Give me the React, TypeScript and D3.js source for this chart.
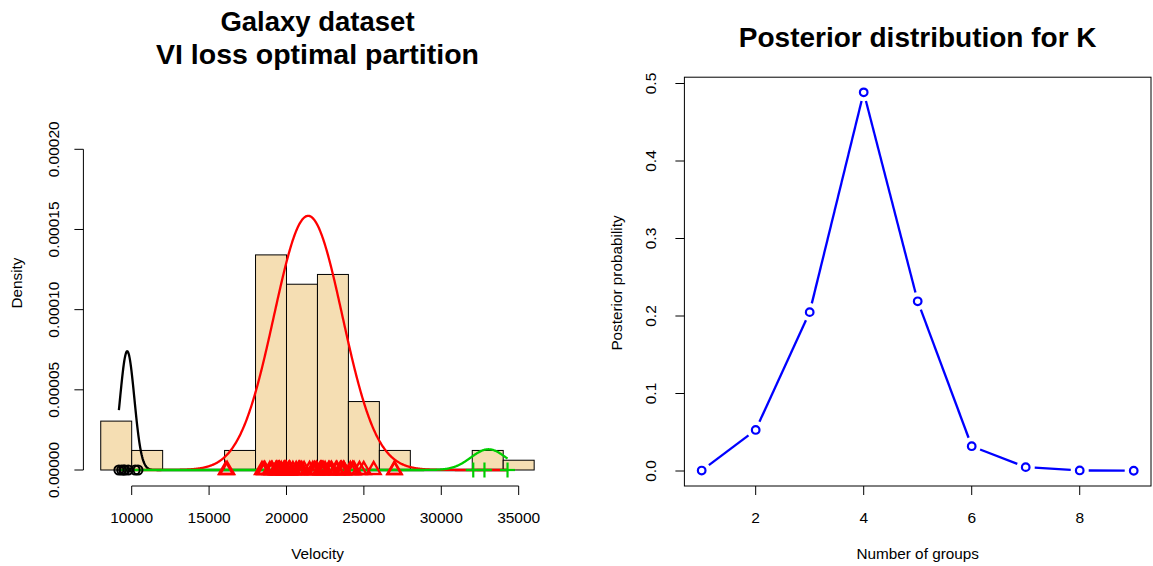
import React from "react";
import * as d3 from "d3";

// ---- Data ----
const cluster1 = [9172, 9350, 9483, 9558, 9775, 10227, 10406];
const cluster2 = [
  16084, 16170, 18419, 18552, 18600, 18927, 19052, 19070, 19330, 19343, 19349, 19440,
  19473, 19529, 19541, 19547, 19663, 19846, 19856, 19863, 19914, 19918, 19973, 19989,
  20166, 20175, 20179, 20196, 20215, 20221, 20415, 20629, 20795, 20821, 20846, 20875,
  20986, 21137, 21492, 21701, 21814, 21921, 21960, 22185, 22209, 22242, 22249, 22314,
  22374, 22495, 22746, 22747, 22888, 22914, 23206, 23241, 23263, 23484, 23538, 23542,
  23666, 23706, 23711, 24129, 24285, 24289, 24366, 24717, 24990, 25633, 26960, 26995,
];
const cluster3 = [32065, 32789, 34279];
const histBreaks = [8000, 10000, 12000, 14000, 16000, 18000, 20000, 22000, 24000, 26000, 28000, 30000, 32000, 34000, 36000];
const velocityTicks = [10000, 15000, 20000, 25000, 30000, 35000];
const densityTicks = [0, 0.00005, 0.0001, 0.00015, 0.0002];
const densityTickLabels = ["0.00000", "0.00005", "0.00010", "0.00015", "0.00020"];

// mixture components
const compMean = [9710, 21400, 33044];
const compSd = [460, 2210, 1129];
const compWeight = [7 / 82, 72 / 82, 3 / 82];
const curveFrom = 9172;
const curveTo = 34279;

const kValues = [1, 2, 3, 4, 5, 6, 7, 8, 9];
const kProb = [0.0006, 0.053, 0.205, 0.4886, 0.219, 0.032, 0.005, 0.0007, 0.0003];
const kXTicks = [2, 4, 6, 8];
const kYTicks = [0, 0.1, 0.2, 0.3, 0.4, 0.5];

const FONT = "'Liberation Sans', Arial, Helvetica, sans-serif";
const GREEN = "#00CD00";

function normPdf(x: number, m: number, s: number) {
  return Math.exp(-0.5 * ((x - m) / s) ** 2) / (s * Math.sqrt(2 * Math.PI));
}

export default function App() {
  const allData = [...cluster1, ...cluster2, ...cluster3];
  const n = allData.length;

  // Left panel scales
  const xL = d3.scaleLinear().domain([6880, 37120]).range([83.4, 551.5]);
  const yL = d3.scaleLinear().domain([0, 0.0002]).range([470, 149.3]);
  const axisYL = 486;

  const bins = d3
    .bin<number, number>()
    .domain([histBreaks[0], histBreaks[histBreaks.length - 1]])
    .thresholds(histBreaks.slice(1, -1))(allData);

  const curveColors = ["black", "red", GREEN];
  const curveOrder = [0, 1, 2];
  const line = d3
    .line<[number, number]>()
    .x((d) => xL(d[0]))
    .y((d) => yL(d[1]));
  const curves = curveOrder.map((k) => {
    const steps = 800;
    const pts: [number, number][] = [];
    for (let i = 0; i <= steps; i++) {
      const v = curveFrom + ((curveTo - curveFrom) * i) / steps;
      pts.push([v, compWeight[k] * normPdf(v, compMean[k], compSd[k])]);
    }
    return { k, d: line(pts) as string };
  });

  // Right panel scales
  const xR = d3.scaleLinear().domain([0.68, 9.32]).range([684.4, 1151]);
  const yR = d3.scaleLinear().domain([0, 0.5]).range([471, 83.5]);
  const pts = kValues.map((k, i) => [xR(k), yR(kProb[i])] as [number, number]);
  const gap = 9;
  const segs = pts.slice(0, -1).map((p, i) => {
    const q = pts[i + 1];
    const dx = q[0] - p[0];
    const dy = q[1] - p[1];
    const len = Math.hypot(dx, dy);
    if (len <= 2 * gap) return null;
    const ux = dx / len;
    const uy = dy / len;
    return [p[0] + ux * gap, p[1] + uy * gap, q[0] - ux * gap, q[1] - uy * gap];
  });

  const tri = (cx: number, cy: number) => {
    const r = 8;
    return `M${cx},${cy - r}L${cx + r * 0.866},${cy + r / 2}L${cx - r * 0.866},${cy + r / 2}Z`;
  };

  return (
    <svg
      width={1153}
      height={566}
      style={{ position: "absolute", left: 0, top: 0, background: "white" }}
      fontFamily={FONT}
    >
      <rect x={0} y={0} width={1153} height={566} fill="white" />
      {/* ---------- LEFT PANEL ---------- */}
      <text x={317.5} y={31} textAnchor="middle" fontSize={27.5} fontWeight="bold">
        Galaxy dataset
      </text>
      <text x={317.5} y={64} textAnchor="middle" fontSize={28.5} fontWeight="bold">
        VI loss optimal partition
      </text>

      {bins.map((b, i) => {
        const dens = b.length / (n * ((b.x1 as number) - (b.x0 as number)));
        return (
          <rect
            key={i}
            x={xL(b.x0 as number)}
            y={yL(dens)}
            width={xL(b.x1 as number) - xL(b.x0 as number)}
            height={yL(0) - yL(dens)}
            fill="#F5DEB3"
            stroke="black"
            strokeWidth={1}
          />
        );
      })}

      {curves.map((c) => (
        <path key={c.k} d={c.d} fill="none" stroke={curveColors[c.k]} strokeWidth={2.3} />
      ))}

      {/* rug symbols */}
      {cluster2.map((v, i) => (
        <path key={"t" + i} d={tri(xL(v), 470)} fill="none" stroke="red" strokeWidth={2.4} />
      ))}
      {cluster3.map((v, i) => (
        <g key={"p" + i} stroke={GREEN} strokeWidth={2.2}>
          <line x1={xL(v)} x2={xL(v)} y1={462.5} y2={477.5} />
          <line x1={xL(v) - 7.5} x2={xL(v) + 7.5} y1={470} y2={470} />
        </g>
      ))}
      {cluster1.map((v, i) => (
        <circle key={"c" + i} cx={xL(v)} cy={470} r={4.5} fill="none" stroke="black" strokeWidth={2} />
      ))}

      {/* x axis */}
      <line
        x1={xL(velocityTicks[0])}
        x2={xL(velocityTicks[velocityTicks.length - 1])}
        y1={axisYL}
        y2={axisYL}
        stroke="black"
        strokeWidth={1}
      />
      {velocityTicks.map((t) => (
        <g key={t}>
          <line x1={xL(t)} x2={xL(t)} y1={axisYL} y2={axisYL + 9} stroke="black" />
          <text x={xL(t)} y={523} textAnchor="middle" fontSize={15.5}>
            {t}
          </text>
        </g>
      ))}
      <text x={317.5} y={559} textAnchor="middle" fontSize={15.3}>
        Velocity
      </text>

      {/* y axis */}
      <line x1={83.4} x2={83.4} y1={yL(0)} y2={yL(0.0002)} stroke="black" />
      {densityTicks.map((t, i) => (
        <g key={t}>
          <line x1={83.4} x2={74.4} y1={yL(t)} y2={yL(t)} stroke="black" />
          <text
            transform={`translate(59,${yL(t)}) rotate(-90)`}
            textAnchor="middle"
            fontSize={15.5}
          >
            {densityTickLabels[i]}
          </text>
        </g>
      ))}
      <text transform={`translate(22,283) rotate(-90)`} textAnchor="middle" fontSize={15.3}>
        Density
      </text>

      {/* ---------- RIGHT PANEL ---------- */}
      <text x={917.7} y={47} textAnchor="middle" fontSize={28} fontWeight="bold">
        Posterior distribution for K
      </text>
      <rect x={684.4} y={77.2} width={1151 - 684.4} height={486 - 77.2} fill="none" stroke="black" strokeWidth={1} />

      {segs.map((s, i) =>
        s ? (
          <line key={i} x1={s[0]} y1={s[1]} x2={s[2]} y2={s[3]} stroke="blue" strokeWidth={2.3} />
        ) : null
      )}
      {pts.map((p, i) => (
        <circle key={i} cx={p[0]} cy={p[1]} r={3.8} fill="none" stroke="blue" strokeWidth={2.2} />
      ))}

      {kXTicks.map((t) => (
        <g key={t}>
          <line x1={xR(t)} x2={xR(t)} y1={486} y2={495} stroke="black" />
          <text x={xR(t)} y={523} textAnchor="middle" fontSize={15.5}>
            {t}
          </text>
        </g>
      ))}
      <text x={917.7} y={559} textAnchor="middle" fontSize={15.3}>
        Number of groups
      </text>

      {kYTicks.map((t) => (
        <g key={t}>
          <line x1={684.4} x2={675.4} y1={yR(t)} y2={yR(t)} stroke="black" />
          <text
            transform={`translate(656,${yR(t)}) rotate(-90)`}
            textAnchor="middle"
            fontSize={15.5}
          >
            {t.toFixed(1)}
          </text>
        </g>
      ))}
      <text transform={`translate(622,283) rotate(-90)`} textAnchor="middle" fontSize={15.3}>
        Posterior probability
      </text>
    </svg>
  );
}
